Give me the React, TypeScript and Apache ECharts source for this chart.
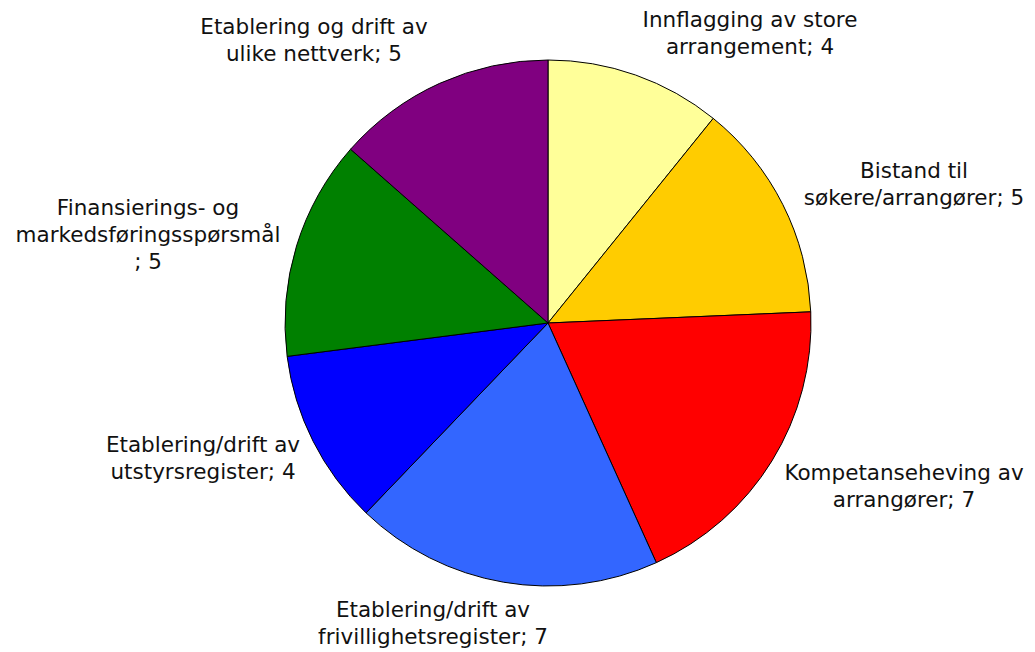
import React, { useEffect, useRef } from "react";
import * as echarts from "echarts";

const categories = [
  "Innflagging av store\narrangement",
  "Bistand til\nsøkere/arrangører",
  "Kompetanseheving av\narrangører",
  "Etablering/drift av\nfrivillighetsregister",
  "Etablering/drift av\nutstyrsregister",
  "Finansierings- og\nmarkedsføringsspørsmål\n",
  "Etablering og drift av\nulike nettverk",
];
const values = [4, 5, 7, 7, 4, 5, 5];
const colors = ["#FFFF99", "#FFCC00", "#FF0000", "#3366FF", "#0000FF", "#008000", "#800080"];
// label centre positions (layout only)
const labelPos: [number, number][] = [
  [750, 33],
  [914, 184],
  [904, 486],
  [433, 623],
  [203, 458],
  [148, 234],
  [314, 40],
];

export default function App() {
  const ref = useRef<HTMLDivElement>(null);
  useEffect(() => {
    document.body.style.margin = "0";
    const chart = echarts.init(ref.current!, null, { renderer: "svg" });
    chart.setOption({
      animation: false,
      backgroundColor: "#FFFFFF",
      series: [
        {
          type: "pie",
          center: [548, 323],
          radius: 263,
          startAngle: 90,
          clockwise: true,
          avoidLabelOverlap: false,
          itemStyle: { borderColor: "#000000", borderWidth: 1 },
          emphasis: { disabled: true },
          label: {
            show: true,
            formatter: (p: any) => `${p.name}; ${p.value}`,
            fontFamily: "DejaVu Sans",
            fontSize: 21.5,
            lineHeight: 27,
            color: "#111111",
            align: "center",
          },
          labelLine: { show: false },
          labelLayout: (params: any) => {
            const pos = labelPos[params.dataIndex];
            return { x: pos[0], y: pos[1], align: "center", verticalAlign: "middle" };
          },
          data: categories.map((c, i) => ({
            name: c,
            value: values[i],
            itemStyle: { color: colors[i] },
          })),
        },
      ],
    });
    return () => chart.dispose();
  }, []);
  return <div ref={ref} style={{ width: 1035, height: 652 }} />;
}
